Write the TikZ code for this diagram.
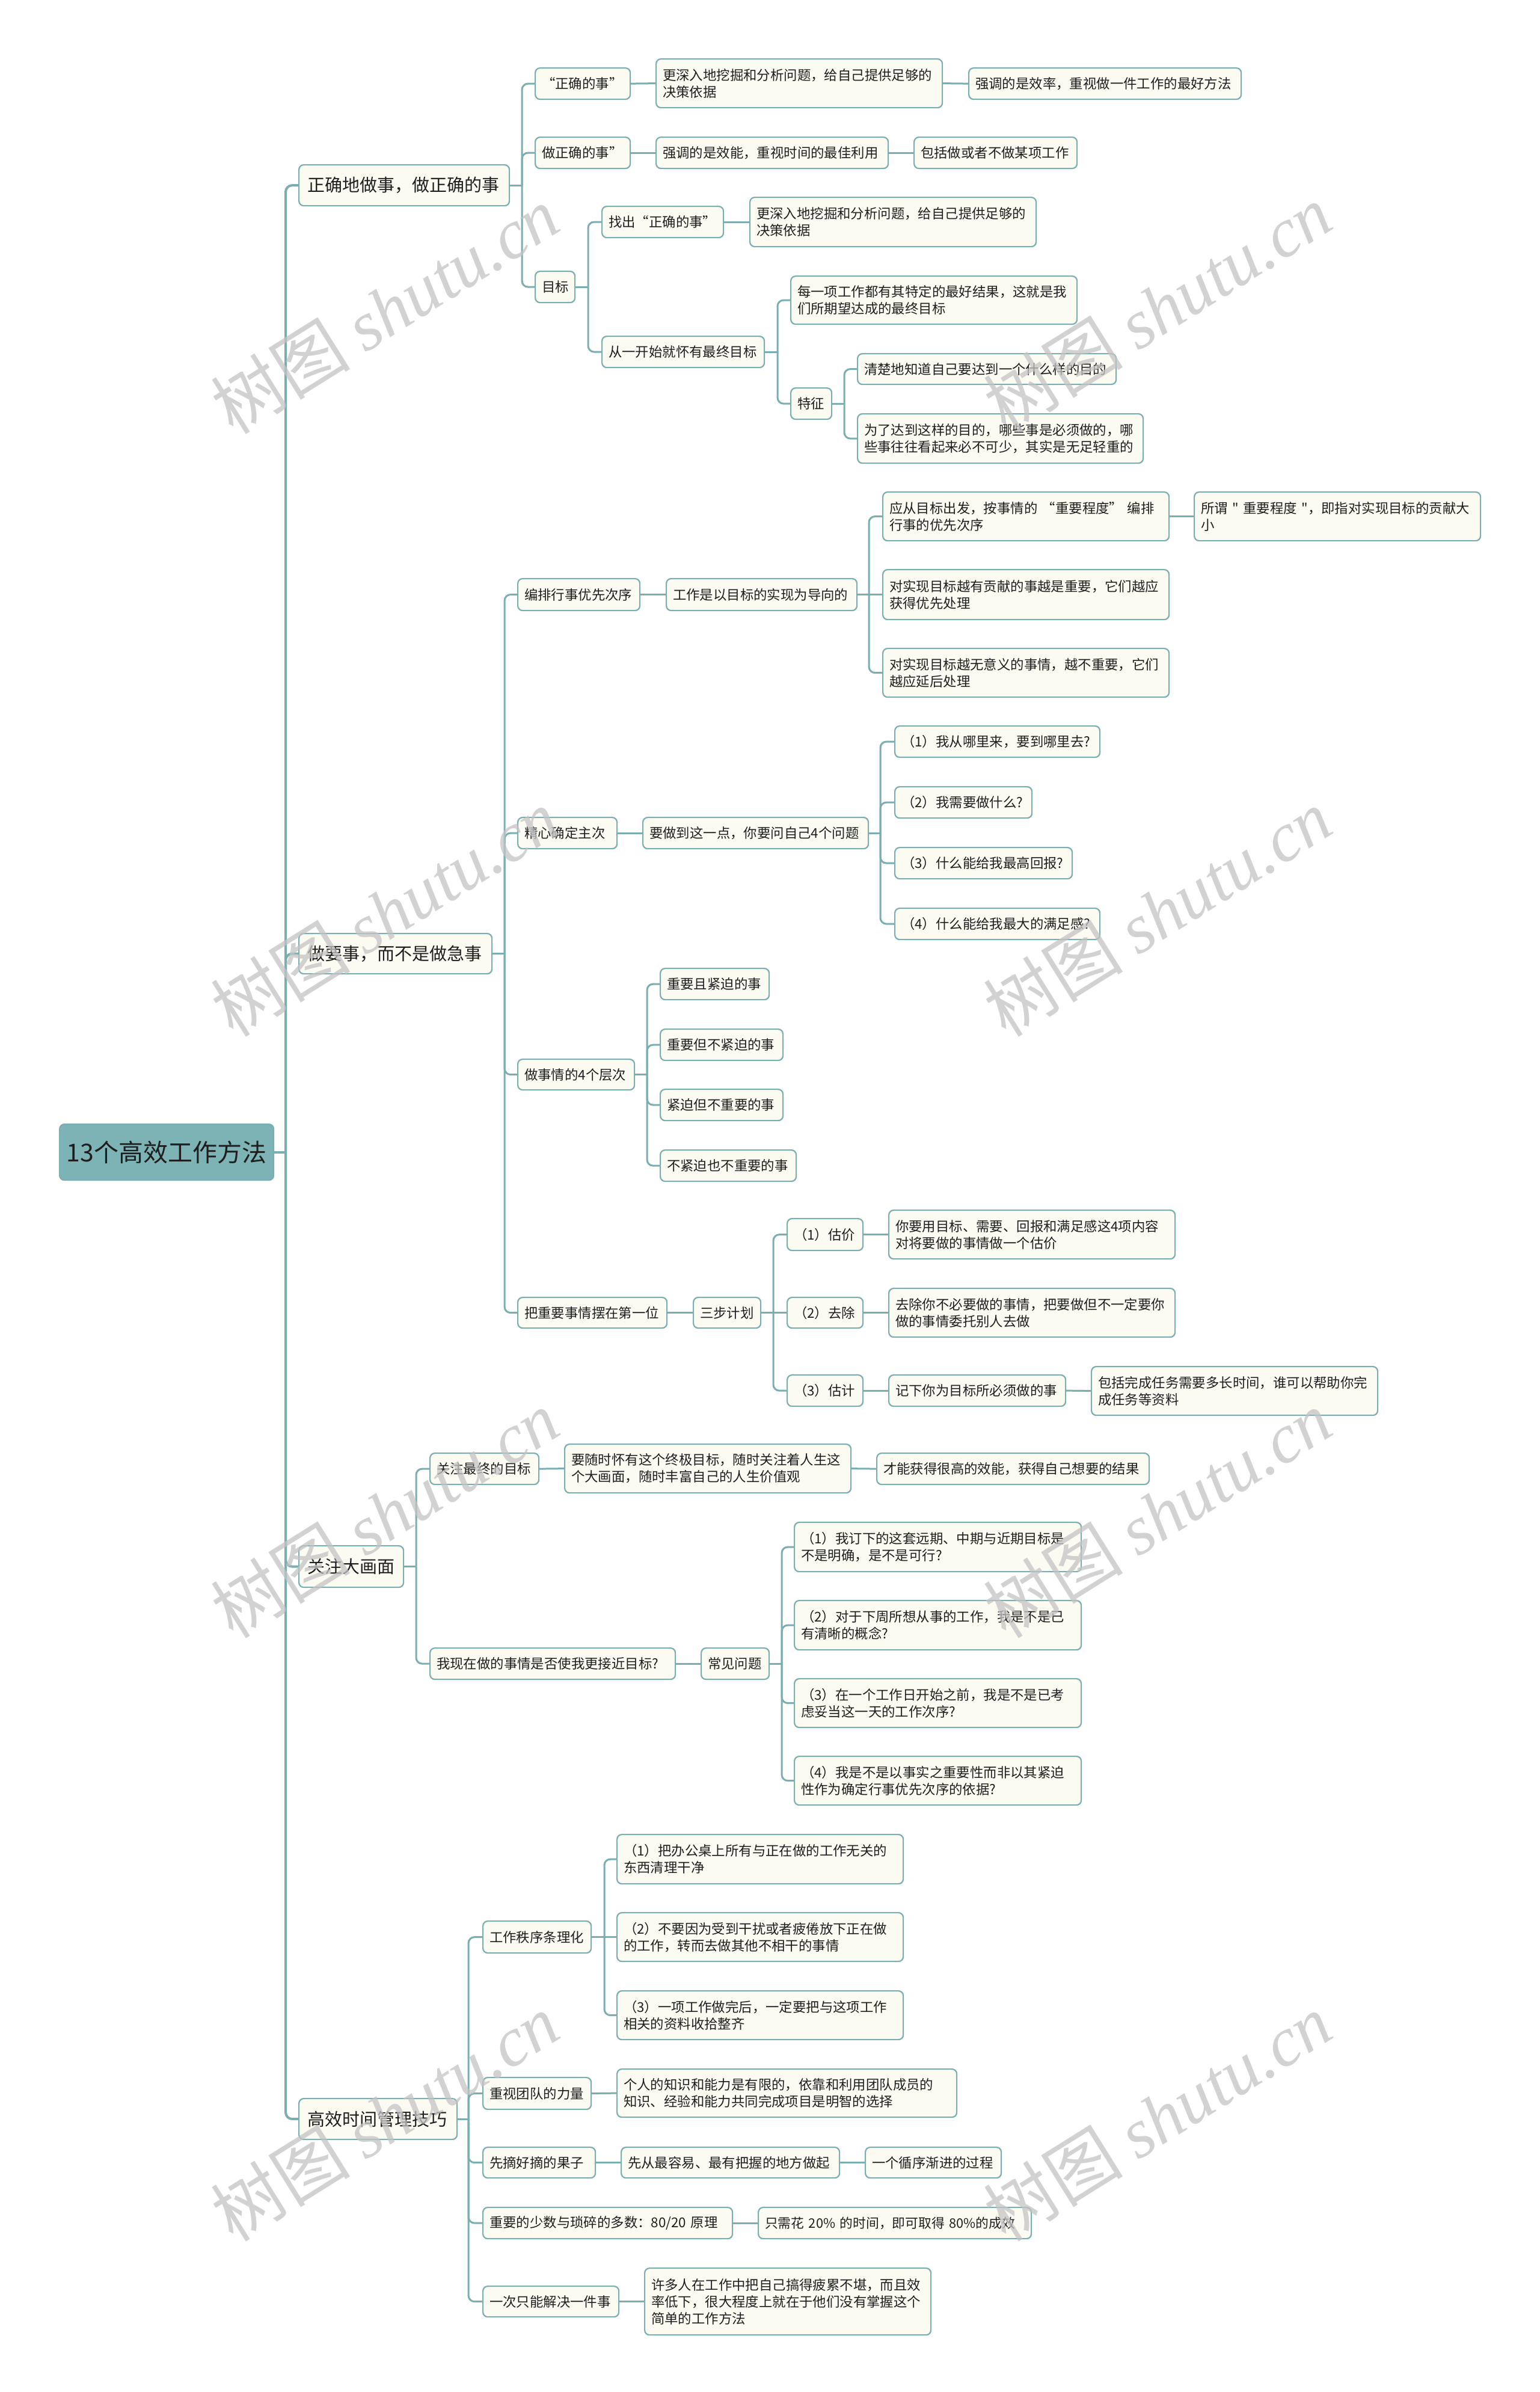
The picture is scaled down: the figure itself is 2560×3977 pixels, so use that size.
\documentclass[tikz,border=0pt]{standalone}
\usepackage{fontspec}
\newfontfamily\cjk{Noto Sans CJK SC}
\newfontfamily\wmlat{Liberation Serif}
\definecolor{lc}{RGB}{122,174,177}
\definecolor{rootfill}{RGB}{125,179,181}
\definecolor{nodefill}{RGB}{252,251,242}
\definecolor{txt}{RGB}{30,30,30}
\definecolor{wm}{RGB}{196,196,196}
\tikzset{
  box/.style={draw=lc, line width=2.2pt, fill=nodefill, rounded corners=8pt, anchor=north west,
    inner xsep=11pt, inner ysep=0pt, align=left, text=txt, font=\cjk\fontsize{22.4pt}{28pt}\selectfont},
  lvone/.style={box, inner xsep=14pt, font=\cjk\fontsize{29pt}{35pt}\selectfont},
  rootbox/.style={box, fill=rootfill, align=center, inner xsep=0pt, font=\cjk\fontsize{41pt}{50pt}\selectfont},
  conn/.style={draw=lc, line width=3pt, rounded corners=10pt},
  trunk/.style={draw=lc, line width=4pt, rounded corners=11pt},
  wmark/.style={text=wm, opacity=0.75, rotate=32, inner sep=0pt, font=\cjk\fontsize{116pt}{116pt}\selectfont}
}
% #1 style, #2 pad, #3 name, #4 x1, #5 y1, #6 x2, #7 y2, #8 text
\newcommand\bx[8]{%
  \pgfmathsetmacro\bxw{#6-#4-2*#2}\pgfmathsetmacro\bxh{#7-#5}%
  \node[#1, text width=\bxw pt, minimum height=\bxh pt] (#3) at (#4,#5) {#8};}
\newcommand\nb[6]{\bx{box}{11}{#1}{#2}{#3}{#4}{#5}{#6}}
\newcommand\nl[6]{\bx{lvone}{14}{#1}{#2}{#3}{#4}{#5}{#6}}
% fan: parent, bus x, children
\newcommand\fan[4][conn]{%
  \coordinate (fanbus) at (#3,0);
  \draw[#1] (#2.east) -- (#2.east -| fanbus);
  \foreach \ch in {#4} {\draw[#1] (#2.east -| fanbus) |- (\ch.west);}
}
\begin{document}
\begin{tikzpicture}[x=1pt,y=-1pt]
\useasboundingbox (0,0) rectangle (2560,3977);
\fill[white] (0,0) rectangle (2560,3977);

% root
\bx{rootbox}{0}{R}{98}{1868}{454}{1961}{13个高效工作方法}

% level 1
\nl{A}{496}{273}{846}{341}{正确地做事，做正确的事}
\nl{B}{496}{1551}{817}{1618}{做要事，而不是做急事}
\nl{C}{496}{2569}{670}{2638}{关注大画面}
\nl{D}{496}{3488}{759}{3556}{高效时间管理技巧}

% A branch
\nb{A1}{889}{112}{1047}{164}{“正确的事”}
\nb{A1a}{1090}{97}{1566}{178}{更深入地挖掘和分析问题，给自己提供足够的\\决策依据}
\nb{A1b}{1610}{112}{2063}{164}{强调的是效率，重视做一件工作的最好方法}
\nb{A2}{889}{227}{1047}{279}{做正确的事”}
\nb{A2a}{1090}{227}{1476}{279}{强调的是效能，重视时间的最佳利用}
\nb{A2b}{1519}{227}{1790}{279}{包括做或者不做某项工作}
\nb{A3}{889}{450}{955}{502}{目标}
\nb{A3a}{1000}{342}{1202}{394}{找出“正确的事”}
\nb{A3ax}{1246}{327}{1722}{409}{更深入地挖掘和分析问题，给自己提供足够的\\决策依据}
\nb{A3b}{1000}{558}{1270}{610}{从一开始就怀有最终目标}
\nb{A3b1}{1314}{458}{1790}{538}{每一项工作都有其特定的最好结果，这就是我\\们所期望达成的最终目标}
\nb{A3b2}{1314}{644}{1382}{696}{特征}
\nb{A3b2a}{1425}{587}{1855}{638}{清楚地知道自己要达到一个什么样的目的}
\nb{A3b2b}{1425}{687}{1900}{769}{为了达到这样的目的，哪些事是必须做的，哪\\些事往往看起来必不可少，其实是无足轻重的}

% B branch
\nb{B1}{860}{961}{1063}{1014}{编排行事优先次序}
\nb{B1a}{1107}{961}{1424}{1014}{工作是以目标的实现为导向的}
\nb{B1a1}{1467}{817}{1943}{898}{应从目标出发，按事情的 “重要程度” 编排\\行事的优先次序}
\nb{B1a1x}{1985}{817}{2461}{898}{所谓 " 重要程度 "，即指对实现目标的贡献大\\小}
\nb{B1a2}{1467}{946}{1943}{1029}{对实现目标越有贡献的事越是重要，它们越应\\获得优先处理}
\nb{B1a3}{1467}{1077}{1943}{1158}{对实现目标越无意义的事情，越不重要，它们\\越应延后处理}
\nb{B2}{860}{1358}{1025}{1410}{精心确定主次}
\nb{B2a}{1068}{1358}{1443}{1410}{要做到这一点，你要问自己4个问题}
\nb{B2a1}{1487}{1206}{1828}{1258}{（1）我从哪里来，要到哪里去?}
\nb{B2a2}{1487}{1307}{1715}{1359}{（2）我需要做什么?}
\nb{B2a3}{1487}{1408}{1782}{1460}{（3）什么能给我最高回报?}
\nb{B2a4}{1487}{1509}{1828}{1561}{（4）什么能给我最大的满足感?}
\nb{B3}{860}{1760}{1054}{1811}{做事情的4个层次}
\nb{B3a}{1097}{1609}{1278}{1661}{重要且紧迫的事}
\nb{B3b}{1097}{1710}{1301}{1762}{重要但不紧迫的事}
\nb{B3c}{1097}{1810}{1301}{1862}{紧迫但不重要的事}
\nb{B3d}{1097}{1911}{1323}{1963}{不紧迫也不重要的事}
\nb{B4}{860}{2156}{1108}{2207}{把重要事情摆在第一位}
\nb{B4a}{1152}{2156}{1264}{2207}{三步计划}
\nb{B4a1}{1308}{2025}{1434}{2078}{（1）估价}
\nb{B4a1x}{1477}{2011}{1953}{2092}{你要用目标、需要、回报和满足感这4项内容\\对将要做的事情做一个估价}
\nb{B4a2}{1308}{2156}{1434}{2207}{（2）去除}
\nb{B4a2x}{1477}{2141}{1953}{2222}{去除你不必要做的事情，把要做但不一定要你\\做的事情委托别人去做}
\nb{B4a3}{1308}{2285}{1434}{2337}{（3）估计}
\nb{B4a3x}{1477}{2285}{1771}{2337}{记下你为目标所必须做的事}
\nb{B4a3y}{1814}{2271}{2290}{2352}{包括完成任务需要多长时间，谁可以帮助你完\\成任务等资料}

% C branch
\nb{C1}{714}{2415}{895}{2467}{关注最终的目标}
\nb{C1a}{938}{2400}{1414}{2481}{要随时怀有这个终极目标，随时关注着人生这\\个大画面，随时丰富自己的人生价值观}
\nb{C1b}{1457}{2415}{1910}{2467}{才能获得很高的效能，获得自己想要的结果}
\nb{C2}{714}{2739}{1122}{2791}{我现在做的事情是否使我更接近目标?}
\nb{C2a}{1165}{2739}{1278}{2791}{常见问题}
\nb{C2a1}{1320}{2530}{1797}{2612}{（1）我订下的这套远期、中期与近期目标是\\不是明确，是不是可行?}
\nb{C2a2}{1320}{2660}{1797}{2742}{（2）对于下周所想从事的工作，我是不是已\\有清晰的概念?}
\nb{C2a3}{1320}{2790}{1797}{2871}{（3）在一个工作日开始之前，我是不是已考\\虑妥当这一天的工作次序?}
\nb{C2a4}{1320}{2919}{1797}{3000}{（4）我是不是以事实之重要性而非以其紧迫\\性作为确定行事优先次序的依据?}

% D branch
\nb{D1}{802}{3193}{982}{3246}{工作秩序条理化}
\nb{D1a}{1025}{3049}{1501}{3131}{（1）把办公桌上所有与正在做的工作无关的\\东西清理干净}
\nb{D1b}{1025}{3179}{1501}{3260}{（2）不要因为受到干扰或者疲倦放下正在做\\的工作，转而去做其他不相干的事情}
\nb{D1c}{1025}{3309}{1501}{3390}{（3）一项工作做完后，一定要把与这项工作\\相关的资料收拾整齐}
\nb{D2}{802}{3453}{982}{3506}{重视团队的力量}
\nb{D2a}{1025}{3439}{1590}{3519}{个人的知识和能力是有限的，依靠和利用团队成员的\\知识、经验和能力共同完成项目是明智的选择}
\nb{D3}{802}{3569}{989}{3620}{先摘好摘的果子}
\nb{D3a}{1032}{3569}{1395}{3620}{先从最容易、最有把握的地方做起}
\nb{D3b}{1438}{3569}{1664}{3620}{一个循序渐进的过程}
\nb{D4}{802}{3669}{1217}{3721}{重要的少数与琐碎的多数：80/20 原理}
\nb{D4a}{1260}{3669}{1714}{3721}{{\fontsize{21.8pt}{28pt}\selectfont 只需花 20\% 的时间，即可取得 80\%的成效}}
\nb{D5}{802}{3800}{1028}{3851}{一次只能解决一件事}
\nb{D5a}{1071}{3770}{1547}{3881}{许多人在工作中把自己搞得疲累不堪，而且效\\率低下，很大程度上就在于他们没有掌握这个\\简单的工作方法}

% connectors
\fan[trunk]{R}{475}{A,B,C,D}
\fan{A}{868}{A1,A2,A3}
\draw[conn] (A1.east) -- (A1a.west);
\draw[conn] (A1a.east) -- (A1b.west);
\draw[conn] (A2.east) -- (A2a.west);
\draw[conn] (A2a.east) -- (A2b.west);
\fan{A3}{978}{A3a,A3b}
\draw[conn] (A3a.east) -- (A3ax.west);
\fan{A3b}{1293}{A3b1,A3b2}
\fan{A3b2}{1404}{A3b2a,A3b2b}

\fan{B}{839}{B1,B2,B3,B4}
\draw[conn] (B1.east) -- (B1a.west);
\fan{B1a}{1445}{B1a1,B1a3}
\draw[conn] (B1a.east) -- (B1a2.west);
\draw[conn] (B1a1.east) -- (B1a1x.west);
\draw[conn] (B2.east) -- (B2a.west);
\fan{B2a}{1464}{B2a1,B2a2,B2a3,B2a4}
\fan{B3}{1076}{B3a,B3b,B3c,B3d}
\draw[conn] (B4.east) -- (B4a.west);
\fan{B4a}{1286}{B4a1,B4a3}
\draw[conn] (B4a.east) -- (B4a2.west);
\draw[conn] (B4a1.east) -- (B4a1x.west);
\draw[conn] (B4a2.east) -- (B4a2x.west);
\draw[conn] (B4a3.east) -- (B4a3x.west);
\draw[conn] (B4a3x.east) -- (B4a3y.west);

\fan{C}{692}{C1,C2}
\draw[conn] (C1.east) -- (C1a.west);
\draw[conn] (C1a.east) -- (C1b.west);
\draw[conn] (C2.east) -- (C2a.west);
\fan{C2a}{1300}{C2a1,C2a2,C2a3,C2a4}

\fan{D}{779}{D1,D2,D3,D4,D5}
\fan{D1}{1005}{D1a,D1c}
\draw[conn] (D1.east) -- (D1b.west);
\draw[conn] (D2.east) -- (D2a.west);
\draw[conn] (D3.east) -- (D3a.west);
\draw[conn] (D3a.east) -- (D3b.west);
\draw[conn] (D4.east) -- (D4a.west);
\draw[conn] (D5.east) -- (D5a.west);

% watermarks
\foreach \wx/\wy [count=\wi] in {640/515,1925/512,640/1517,1925/1517,640/2517,1925/2517,640/3520,1925/3520}
  \node[wmark] (wm\wi) at (\wx,\wy) {树图 {\wmlat\itshape shutu.cn}};
\end{tikzpicture}
\end{document}
